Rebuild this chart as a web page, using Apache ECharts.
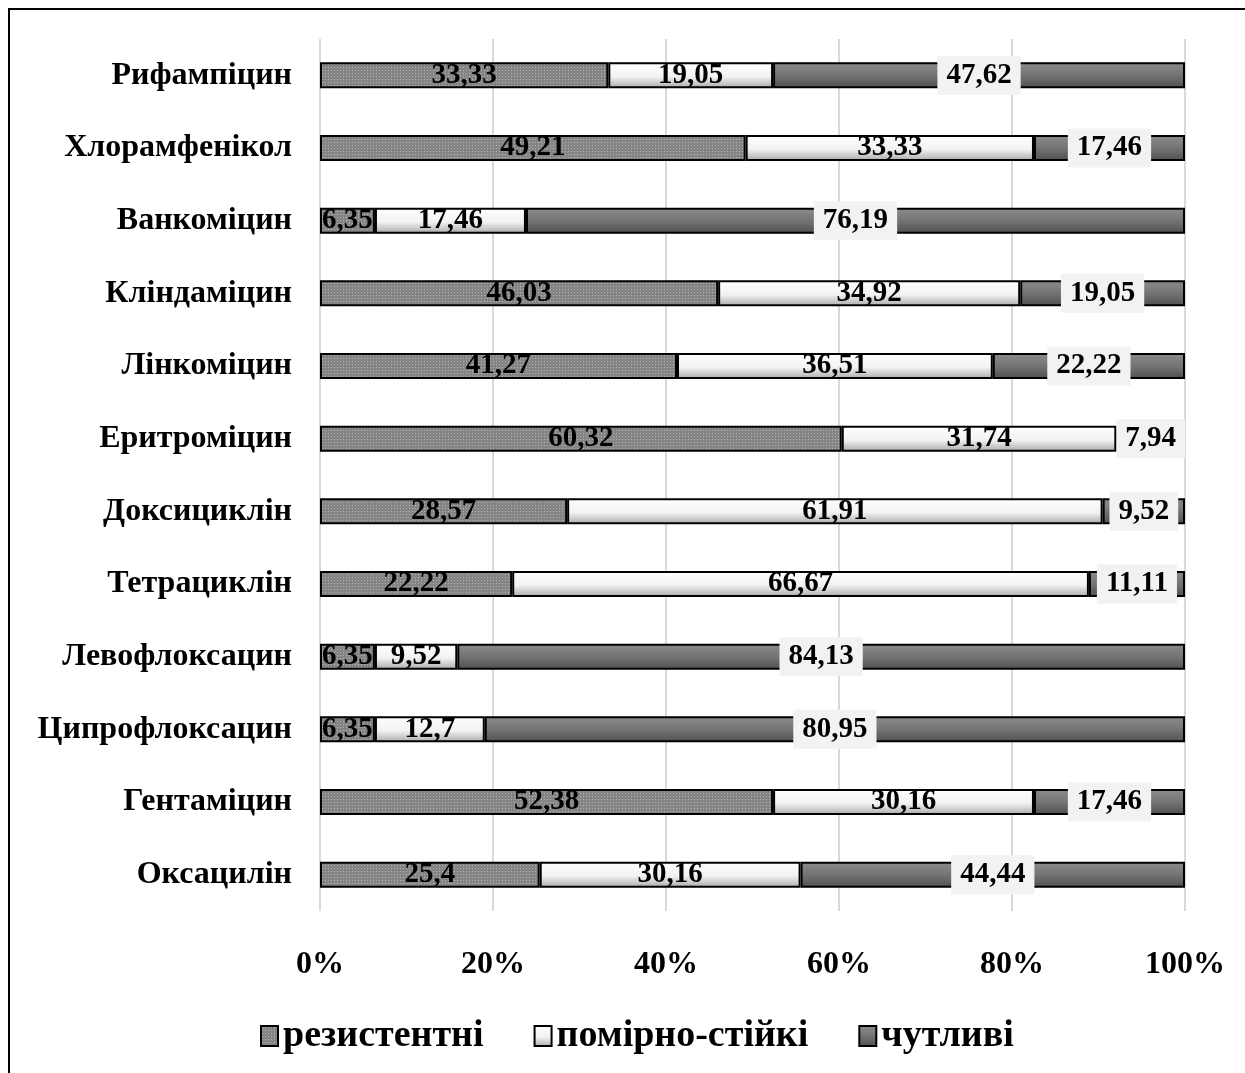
<!DOCTYPE html>
<html>
<head>
<meta charset="utf-8">
<script src="https://cdn.jsdelivr.net/npm/echarts@6/dist/echarts.min.js"></script>
<style>html,body{margin:0;padding:0;background:#fff}#c{width:1245px;height:1073px}</style>
</head>
<body>
<div id="c"></div>
<script>
const categories = ['Рифампіцин','Хлорамфенікол','Ванкоміцин','Кліндаміцин','Лінкоміцин','Еритроміцин','Доксициклін','Тетрациклін','Левофлоксацин','Ципрофлоксацин','Гентаміцин','Оксацилін'];
const seriesNames = ['резистентні','помірно-стійкі','чутливі'];
const resistant = [33.33,49.21,6.35,46.03,41.27,60.32,28.57,22.22,6.35,6.35,52.38,25.4];
const moderate = [19.05,33.33,17.46,34.92,36.51,31.74,61.91,66.67,9.52,12.7,30.16,30.16];
const sensitive = [47.62,17.46,76.19,19.05,22.22,7.94,9.52,11.11,84.13,80.95,17.46,44.44];
const xTicks = [0,20,40,60,80,100];

const FONT = '"Liberation Serif","Times New Roman",serif';

// dotted pattern for resistant series
const pc = document.createElement('canvas');
pc.width = 3; pc.height = 3;
const pctx = pc.getContext('2d');
pctx.fillStyle = '#858585'; pctx.fillRect(0,0,3,3);
pctx.fillStyle = '#b4b4b4'; pctx.fillRect(1,1,1,1);

const fmt = p => String(p.value).replace('.', ',');
const labelBase = {show:true, position:'inside', color:'#000', fontFamily:FONT, fontWeight:'bold', fontSize:29, formatter:fmt};

const chart = echarts.init(document.getElementById('c'), null, {renderer:'canvas'});
chart.setOption({
  animation:false,
  backgroundColor:'#fff',
  textStyle:{fontFamily:FONT},
  graphic:[{type:'rect', shape:{x:9,y:9,width:1400,height:1200}, style:{fill:'none', stroke:'#000', lineWidth:2}, silent:true}],
  grid:{left:320, right:60, top:39, bottom:162},
  legend:{
    data:seriesNames, left:255, top:1012, icon:'rect', itemWidth:17, itemHeight:20, itemGap:50,
    textStyle:{fontFamily:FONT, fontWeight:'bold', fontSize:38, color:'#000'}
  },
  xAxis:{
    type:'value', min:xTicks[0], max:xTicks[xTicks.length-1], interval:20,
    axisLine:{show:false}, axisTick:{show:false},
    splitLine:{show:true, lineStyle:{color:'#d9d9d9', width:2}},
    axisLabel:{formatter:'{value}%', fontFamily:FONT, fontWeight:'bold', fontSize:32, color:'#000', margin:38}
  },
  yAxis:{
    type:'category', data:categories, inverse:true,
    axisLine:{show:false}, axisTick:{show:false},
    axisLabel:{fontFamily:FONT, fontWeight:'bold', fontSize:32, color:'#000', margin:28}
  },
  series:[
    {name:seriesNames[0], type:'bar', stack:'s', data:resistant, barWidth:26,
     itemStyle:{color:{image:pc, repeat:'repeat'}, borderColor:'#000', borderWidth:2},
     label:labelBase},
    {name:seriesNames[1], type:'bar', stack:'s', data:moderate, barWidth:26,
     itemStyle:{color:new echarts.graphic.LinearGradient(0,0,0,1,[{offset:0,color:'#ffffff'},{offset:0.55,color:'#f2f2f2'},{offset:1,color:'#a9a9a9'}]), borderColor:'#000', borderWidth:2},
     label:labelBase},
    {name:seriesNames[2], type:'bar', stack:'s', data:sensitive, barWidth:26,
     itemStyle:{color:new echarts.graphic.LinearGradient(0,0,0,1,[{offset:0,color:'#8c8c8c'},{offset:0.5,color:'#747474'},{offset:1,color:'#4f4f4f'}]), borderColor:'#000', borderWidth:2},
     label:Object.assign({}, labelBase, {backgroundColor:'#f2f2f2', padding:[6,9,4,9]})}
  ]
});
</script>
</body>
</html>
